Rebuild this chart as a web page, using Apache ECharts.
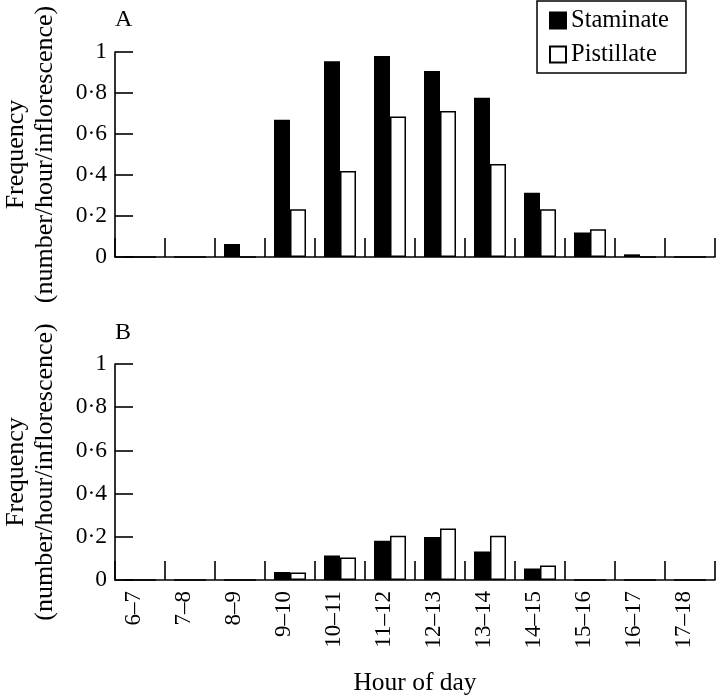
<!DOCTYPE html>
<html>
<head>
<meta charset="utf-8">
<script src="https://cdn.jsdelivr.net/npm/echarts@6/dist/echarts.min.js"></script>
<style>
html,body{margin:0;padding:0;background:#fff;}
#main{width:720px;height:696px;}
</style>
</head>
<body>
<div id="main"></div>
<script>
const categories = ['6–7','7–8','8–9','9–10','10–11','11–12','12–13','13–14','14–15','15–16','16–17','17–18'];
const staminateA = [0, 0, 0.063, 0.67, 0.955, 0.98, 0.907, 0.777, 0.314, 0.119, 0.013, 0];
const pistillateA = [0, 0, 0, 0.233, 0.42, 0.685, 0.712, 0.454, 0.233, 0.135, 0, 0];
const staminateB = [0, 0, 0, 0.037, 0.114, 0.182, 0.199, 0.132, 0.053, 0, 0, 0];
const pistillateB = [0, 0, 0, 0.035, 0.104, 0.205, 0.238, 0.205, 0.067, 0, 0, 0];
const yTickValues = [0, 0.2, 0.4, 0.6, 0.8, 1];
const yTickLabels = ['0', '0·2', '0·4', '0·6', '0·8', '1'];
const panelLabels = ['A', 'B'];
const yTitle = 'Frequency\n(number/hour/inflorescence)';
const xTitle = 'Hour of day';
const seriesNames = ['Staminate', 'Pistillate'];

const FONT = 'Liberation Serif';
const chart = echarts.init(document.getElementById('main'), null, {renderer: 'canvas'});

function yLabel(v) {
  for (let i = 0; i < yTickValues.length; i++) {
    if (Math.abs(yTickValues[i] - v) < 1e-6) return yTickLabels[i];
  }
  return '';
}

const lineStyle = {color: '#000', width: 1.6};

function makeX(gridIndex, showLabels) {
  return {
    type: 'category', gridIndex: gridIndex, data: categories, boundaryGap: true,
    axisLine: {show: true, lineStyle: lineStyle},
    axisTick: {show: true, inside: true, length: 19, interval: 0, lineStyle: lineStyle},
    axisLabel: {show: showLabels, rotate: 90, interval: 0, margin: 11, fontFamily: FONT, fontSize: 23,
      lineHeight: 12, verticalAlign: 'bottom', color: '#000'},
    name: showLabels ? xTitle : '', nameLocation: 'middle', nameGap: 90, nameMoveOverlap: false,
    nameTextStyle: {fontFamily: FONT, fontSize: 25.5, color: '#000'}
  };
}
function makeY(gridIndex) {
  return {
    type: 'value', gridIndex: gridIndex, min: 0, max: 1, interval: 0.2,
    splitLine: {show: false},
    axisLine: {show: true, lineStyle: lineStyle},
    axisTick: {show: true, inside: true, length: 18, lineStyle: lineStyle},
    axisLabel: {margin: 8, fontFamily: FONT, fontSize: 23.5, color: '#000', formatter: yLabel},
    name: yTitle, nameLocation: 'middle', nameGap: 55, nameMoveOverlap: false,
    nameTextStyle: {fontFamily: FONT, fontSize: 26, lineHeight: 29, color: '#000'}
  };
}
const stamStyle = {color: '#000', borderColor: '#000', borderWidth: 1.5};
const pistStyle = {color: '#fff', borderColor: '#000', borderWidth: 1.5};
function bar(name, data, idx, style) {
  return {
    name: name, type: 'bar', xAxisIndex: idx, yAxisIndex: idx, data: data,
    barWidth: 16, barGap: '0%', itemStyle: style, silent: true, animation: false
  };
}

chart.setOption({
  animation: false,
  backgroundColor: '#fff',
  textStyle: {fontFamily: FONT},
  title: [
    {text: panelLabels[0], left: 115, top: 8, padding: 0, textStyle: {fontFamily: FONT, fontSize: 24, fontWeight: 'normal', color: '#000'}},
    {text: panelLabels[1], left: 115, top: 321, padding: 0, textStyle: {fontFamily: FONT, fontSize: 24, fontWeight: 'normal', color: '#000'}}
  ],
  legend: {
    data: seriesNames, orient: 'vertical', left: 537, top: 1,
    padding: [7, 17, 6, 12], itemGap: 9, itemWidth: 16, itemHeight: 16, itemTextGap: 16,
    borderColor: '#000', borderWidth: 1.5, icon: 'rect',
    textStyle: {fontFamily: FONT, fontSize: 24.5, color: '#000'}
  },
  grid: [
    {left: 115, top: 52, width: 600, height: 205, containLabel: false, outerBoundsMode: 'none'},
    {left: 115, top: 364, width: 600, height: 216, containLabel: false, outerBoundsMode: 'none'}
  ],
  xAxis: [makeX(0, false), makeX(1, true)],
  yAxis: [makeY(0), makeY(1)],
  series: [
    bar(seriesNames[0], staminateA, 0, stamStyle),
    bar(seriesNames[1], pistillateA, 0, pistStyle),
    bar(seriesNames[0], staminateB, 1, stamStyle),
    bar(seriesNames[1], pistillateB, 1, pistStyle)
  ]
});
</script>
</body>
</html>
